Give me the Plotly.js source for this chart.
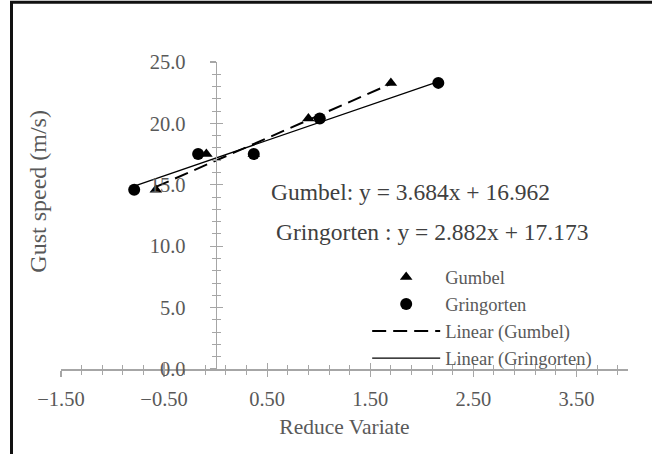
<!DOCTYPE html>
<html><head><meta charset="utf-8">
<script src="https://cdn.plot.ly/plotly-3.0.1.min.js"></script>
<style>html,body{margin:0;padding:0;background:#fff}#chart{width:652px;height:454px}</style>
</head><body><div id="chart"></div>
<script>
// ---- data ----
const gumbelX = [-0.58, -0.09, 0.37, 0.90, 1.70];
const gringortenX = [-0.79, -0.17, 0.37, 1.01, 2.16];
const gustSpeed = [14.6, 17.5, 17.5, 20.4, 23.3];
const seriesNames = ['Gumbel', 'Gringorten'];
const trendNames = ['Linear (Gumbel)', 'Linear (Gringorten)'];
const trendSlope = [3.684, 2.882];
const trendIntercept = [16.962, 17.173];
const equationLabels = ['Gumbel: y = 3.684x + 16.962', 'Gringorten : y = 2.882x + 17.173'];
const xRange = [-1.5, 4.0];
const yRange = [0, 25];

const SERIF = '"Liberation Serif", "Times New Roman", serif';
const AX = '#a6a6a6';
const TXT = '#595959';

function trend(xs, i) {
  const lo = Math.min(...xs), hi = Math.max(...xs);
  return { x: [lo, hi], y: [lo, hi].map(v => trendSlope[i] * v + trendIntercept[i]) };
}
const tG = trend(gumbelX, 0), tR = trend(gringortenX, 1);
const yPos = (0 - xRange[0]) / (xRange[1] - xRange[0]);

const traces = [
  { x: gumbelX, y: gustSpeed, name: seriesNames[0], mode: 'markers', type: 'scatter',
    marker: { symbol: 'triangle-up', size: 11, color: '#000' } },
  { x: gringortenX, y: gustSpeed, name: seriesNames[1], mode: 'markers', type: 'scatter',
    marker: { symbol: 'circle', size: 12, color: '#000' } },
  { x: tG.x, y: tG.y, name: trendNames[0], mode: 'lines', type: 'scatter',
    line: { color: '#000', width: 2, dash: '14px,7px' } },
  { x: tR.x, y: tR.y, name: trendNames[1], mode: 'lines', type: 'scatter',
    line: { color: '#000', width: 1.2 } },
  { x: [], y: [], xaxis: 'x2', yaxis: 'y2', showlegend: false, hoverinfo: 'skip', type: 'scatter' }
];

const layout = {
  width: 652, height: 454,
  margin: { l: 61, r: 24, t: 62, b: 85 },
  paper_bgcolor: '#fff', plot_bgcolor: '#fff',
  font: { family: SERIF, color: TXT, size: 20 },
  showlegend: true,
  legend: { x: 0.54, y: 0.36, xanchor: 'left', yanchor: 'top', bgcolor: 'rgba(0,0,0,0)',
    font: { family: SERIF, size: 18.5, color: TXT }, itemwidth: 68, traceorder: 'normal' },
  xaxis: {
    range: xRange, showgrid: false, zeroline: false, showline: true, linecolor: AX, linewidth: 1.5,
    tickmode: 'linear', tick0: -1.5, dtick: 1, tickformat: '.2f',
    ticks: 'outside', ticklen: 6, tickcolor: AX, tickwidth: 1.2, ticklabelstandoff: 5,
    minor: { ticks: 'outside', ticklen: 4, dtick: 0.2, tick0: -1.5, tickcolor: AX, tickwidth: 1 },
    tickfont: { size: 20.5, color: TXT },
    title: { text: 'Reduce Variate', font: { size: 21.5, color: TXT }, standoff: 10 }
  },
  xaxis2: {
    range: xRange, overlaying: 'x', anchor: 'y2', showgrid: false, zeroline: false, showline: false,
    tickmode: 'linear', tick0: -1.5, dtick: 1, showticklabels: false,
    ticks: 'inside', ticklen: 6, tickcolor: AX, tickwidth: 1.2,
    minor: { ticks: 'inside', ticklen: 4, dtick: 0.2, tick0: -1.5, tickcolor: AX, tickwidth: 1 }
  },
  yaxis: {
    range: yRange, anchor: 'free', position: yPos, showgrid: false, zeroline: false,
    showline: true, linecolor: AX, linewidth: 1.5,
    tickmode: 'linear', tick0: 0, dtick: 5, tickformat: '.1f',
    ticks: 'outside', ticklen: 6, tickcolor: AX, tickwidth: 1.2, ticklabelstandoff: 20,
    minor: { ticks: 'outside', ticklen: 4, dtick: 1, tickcolor: AX, tickwidth: 1 },
    tickfont: { size: 20.5, color: TXT }
  },
  yaxis2: {
    range: yRange, overlaying: 'y', anchor: 'free', position: yPos, showgrid: false, zeroline: false,
    showline: false, tickmode: 'linear', tick0: 0, dtick: 5, showticklabels: false,
    ticks: 'inside', ticklen: 6, tickcolor: AX, tickwidth: 1.2,
    minor: { ticks: 'inside', ticklen: 4, dtick: 1, tickcolor: AX, tickwidth: 1 }
  },
  annotations: [
    { text: 'Gust speed (m/s)', textangle: -90, xref: 'paper', yref: 'paper', x: -0.041, y: 0.58,
      showarrow: false, font: { size: 24, color: TXT }, xanchor: 'center', yanchor: 'middle' },
    { text: equationLabels[0], xref: 'paper', yref: 'paper', x: 0.366, y: 0.575, xanchor: 'left', yanchor: 'middle',
      showarrow: false, font: { size: 23.5, color: '#404040' } },
    { text: equationLabels[1], xref: 'paper', yref: 'paper', x: 0.375, y: 0.445, xanchor: 'left', yanchor: 'middle',
      showarrow: false, font: { size: 23.5, color: '#404040' } }
  ],
  shapes: [
    { type: 'rect', xref: 'paper', yref: 'paper', x0: -0.0873, y0: 1.195, x1: 1.3, y1: -0.6,
      line: { color: '#111', width: 3 }, fillcolor: 'rgba(0,0,0,0)', layer: 'below' }
  ]
};

Plotly.newPlot('chart', traces, layout, { displayModeBar: false, staticPlot: true });
</script>
</body></html>
